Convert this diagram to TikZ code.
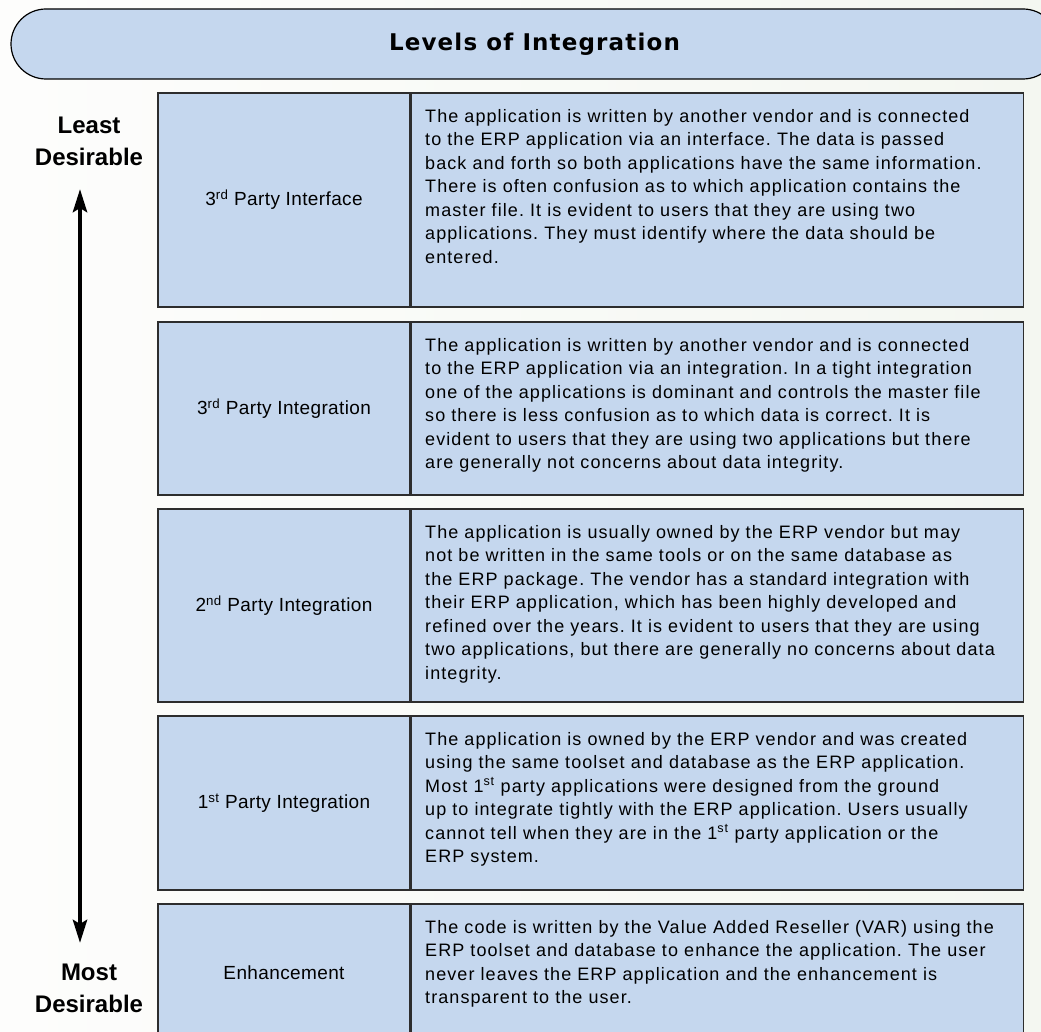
\documentclass[tikz,border=0pt]{standalone}
\usepackage{fontspec}
\setmainfont{Liberation Sans}
\newfontfamily\headfont[LetterSpace=5]{DejaVu Sans}
\newfontfamily\bodyfont[LetterSpace=6]{Liberation Sans}
\newfontfamily\levelfont[LetterSpace=2]{Liberation Sans}
\frenchspacing
\usetikzlibrary{arrows.meta}
\pgfdeclarelayer{edgelayer}
\pgfdeclarelayer{nodelayer}
\pgfsetlayers{edgelayer,nodelayer,main}
\definecolor{cellblue}{RGB}{197,215,238}
\definecolor{cellline}{RGB}{45,45,45}
\definecolor{paperleft}{RGB}{253,253,252}
\definecolor{paperright}{RGB}{244,247,241}
\tikzstyle{banner}=[rectangle,rounded corners=35pt,fill=cellblue,draw=black,line width=1.2pt,minimum width=1047pt,minimum height=70pt,inner sep=0pt,font=\headfont\bfseries\fontsize{23}{26}\selectfont]
\tikzstyle{level}=[rectangle,fill=cellblue,draw=cellline,line width=1.5pt,minimum width=252pt,inner sep=0pt,font=\levelfont\fontsize{19}{22}\selectfont]
\tikzstyle{box}=[rectangle,fill=cellblue,draw=cellline,line width=1.5pt,minimum width=612pt,inner sep=0pt,anchor=west]
\tikzstyle{desc}=[anchor=north west,inner sep=0pt,align=left,font=\bodyfont\fontsize{18}{23.5}\selectfont]
\tikzstyle{rank}=[align=center,inner sep=0pt,font=\bfseries\fontsize{24}{32}\selectfont]
\tikzstyle{ranking}=[{Stealth[length=23pt,width=14pt,inset=4pt]}-{Stealth[length=23pt,width=14pt,inset=4pt]},line width=4.5pt,draw=black]

\begin{document}
\begin{tikzpicture}[x=1pt,y=-1pt]
	\useasboundingbox (0,0) rectangle (1041,1032);
	\clip (0,0) rectangle (1041,1032);
	\begin{pgfonlayer}{edgelayer}
		\shade [left color=paperleft,right color=paperright] (0,0) rectangle (1041,1032);
	\end{pgfonlayer}
	\begin{pgfonlayer}{nodelayer}
		\node [style=banner] (title) at (534.5, 44) {Levels of Integration};
		% levels, worst at the top
		\node [style=level, minimum height=214pt] (iface) at (284, 200) {3\textsuperscript{rd} Party Interface};
		\node [style=box, minimum height=214pt] (iface-box) at (iface.east) {};
		\node [style=level, minimum height=173pt] (thirdint) at (284, 408.5) {3\textsuperscript{rd} Party Integration};
		\node [style=box, minimum height=173pt] (thirdint-box) at (thirdint.east) {};
		\node [style=level, minimum height=193pt] (secondint) at (284, 605.5) {2\textsuperscript{nd} Party Integration};
		\node [style=box, minimum height=193pt] (secondint-box) at (secondint.east) {};
		\node [style=level, minimum height=174pt] (firstint) at (284, 803) {1\textsuperscript{st} Party Integration};
		\node [style=box, minimum height=174pt] (firstint-box) at (firstint.east) {};
		\node [style=level, minimum height=138pt] (enh) at (284, 973) {Enhancement};
		\node [style=box, minimum height=138pt] (enh-box) at (enh.east) {};
		% descriptions
		\node [style=desc] (iface-text) at (425, 109) {The application is written by another vendor and is connected\\to the ERP application via an interface. The data is passed\\back and forth so both applications have the same information.\\There is often confusion as to which application contains the\\master file. It is evident to users that they are using two\\applications. They must identify where the data should be\\entered.};
		\node [style=desc] (thirdint-text) at (425, 338) {The application is written by another vendor and is connected\\to the ERP application via an integration. In a tight integration\\one of the applications is dominant and controls the master file\\so there is less confusion as to which data is correct. It is\\evident to users that they are using two applications but there\\are generally not concerns about data integrity.};
		\node [style=desc] (secondint-text) at (425, 525) {The application is usually owned by the ERP vendor but may\\not be written in the same tools or on the same database as\\the ERP package. The vendor has a standard integration with\\their ERP application, which has been highly developed and\\refined over the years. It is evident to users that they are using\\two applications, but there are generally no concerns about data\\integrity.};
		\node [style=desc] (firstint-text) at (425, 732) {The application is owned by the ERP vendor and was created\\using the same toolset and database as the ERP application.\\Most 1\textsuperscript{st} party applications were designed from the ground\\up to integrate tightly with the ERP application. Users usually\\cannot tell when they are in the 1\textsuperscript{st} party application or the\\ERP system.};
		\node [style=desc] (enh-text) at (425, 920) {The code is written by the Value Added Reseller (VAR) using the\\ERP toolset and database to enhance the application. The user\\never leaves the ERP application and the enhancement is\\transparent to the user.};
		% scale on the left
		\node [style=rank] (least) at (89, 141) {Least\\Desirable};
		\node [style=rank] (most) at (89, 988) {Most\\Desirable};
		\coordinate (top) at (80, 189);
		\coordinate (bottom) at (80, 943);
	\end{pgfonlayer}
	\begin{pgfonlayer}{edgelayer}
		\draw [style=ranking] (bottom) to (top);
	\end{pgfonlayer}
\end{tikzpicture}
\end{document}
